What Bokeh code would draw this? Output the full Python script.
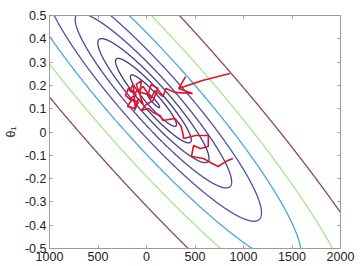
import numpy as np
from bokeh.plotting import figure
from bokeh.models import FixedTicker, LinearAxis
from bokeh.embed import file_html
from bokeh.resources import INLINE

# ---- data ----
size_mean = 2000.68          # mean house size used for the cost surface
size_std = 794.70            # std of house size
theta_min = [71.27, 0.1345]  # location of the cost minimum (theta0, theta1)
cost_min = 4000              # cost value at the minimum

levels = [10, 18.3, 33.6, 61.6, 112.9, 206.9, 379.3, 695.2, 1274, 2336,
          4281, 7848, 14384, 26367, 48329, 88587, 162378, 297635, 545559, 1000000]
contour_colors = ["#383880"] * 13 + ["#3f3f8e", "#48489e", "#5050ae",
                                     "#4aa6dc", "#a6e68c", "#8a4a4a"]

path_theta0 = [861, 576, 332, 403, 332, 475, 292, 200, 170, 88, 47, -34, -115,
               -186, -217, -156, -197, -115, -136, -176, -105, -166, -85, -125,
               -85, -34, -105, -54, -64, 17, 47,
               119, 68, -3, -54, 17, 68, 139, 170, 292, 353, 373, 383, 505, 637,
               637, 556, 485, 464, 587, 678, 739, 820, 891]
path_theta1 = [0.251, 0.221, 0.187, 0.238, 0.187, 0.165, 0.170, 0.187, 0.152,
               0.178, 0.144, 0.195, 0.170, 0.187, 0.157, 0.135, 0.110, 0.101,
               0.204, 0.178, 0.161, 0.144, 0.127, 0.092,
               0.144, 0.118, 0.204, 0.221, 0.170, 0.161, 0.204, 0.187, 0.135,
               0.118, 0.092, 0.101, 0.084, 0.071, 0.049, 0.058, 0.028, -0.002,
               -0.028, -0.015, -0.015, -0.062, -0.071, -0.058, -0.105, -0.114,
               -0.135, -0.148, -0.126, -0.114]

xticks = [-1000, -500, 0, 500, 1000, 1500, 2000]
xtick_labels = ["1000", "500", "0", "500", "1000", "1500", "2000"]
yticks = [-0.5, -0.4, -0.3, -0.2, -0.1, 0, 0.1, 0.2, 0.3, 0.4, 0.5]
ytick_labels = ["-0.5", "-0.4", "-0.3", "-0.2", "-0.1", "0", "0.1", "0.2", "0.3", "0.4", "0.5"]

# ---- contour curves of the quadratic cost ----
H = 0.5 * np.array([[1.0, size_mean], [size_mean, size_mean ** 2 + size_std ** 2]])
w, V = np.linalg.eigh(H)
t = np.linspace(0, 2 * np.pi, 2000)
cx, cy, cc = [], [], []
for L, col in zip(levels, contour_colors):
    dJ = L - cost_min
    if dJ <= 0:
        continue
    r = np.sqrt(dJ / w)
    pts = V @ np.vstack([r[0] * np.cos(t), r[1] * np.sin(t)])
    cx.append(pts[0] + theta_min[0])
    cy.append(pts[1] + theta_min[1])
    cc.append(col)

FONT = "Liberation Sans"
GRAY = "#9a9a9a"

p = figure(width=362, height=266, x_range=(-1000, 2000), y_range=(-0.5, 0.5),
           output_backend="svg", toolbar_location=None,
           min_border_left=45, min_border_right=22, min_border_top=15, min_border_bottom=18)
p.xgrid.visible = False
p.ygrid.visible = False
p.outline_line_color = GRAY
p.background_fill_color = "white"
p.border_fill_color = "white"

p.multi_line(cx, cy, line_color=cc, line_width=1.3)
p.line(path_theta0, path_theta1, line_color="#e3122c", line_width=1.6)

def style(ax, labels=True):
    ax.major_tick_in = 3
    ax.major_tick_out = 0
    ax.minor_tick_in = 0
    ax.minor_tick_out = 0
    ax.axis_line_color = GRAY
    ax.major_tick_line_color = GRAY
    ax.major_label_text_font = FONT
    if labels:
        ax.major_label_text_color = "#222222"
        ax.major_label_text_font_size = "12.5px"
        ax.major_label_standoff = 3
    else:
        ax.major_label_text_color = None
        ax.major_label_text_font_size = "1px"
        ax.major_label_standoff = 0

xa = p.xaxis[0]
xa.ticker = FixedTicker(ticks=xticks)
xa.major_label_overrides = {k: v for k, v in zip(xticks, xtick_labels)}
style(xa)

ya = p.yaxis[0]
ya.ticker = FixedTicker(ticks=yticks)
ya.major_label_overrides = {k: v for k, v in zip(yticks, ytick_labels)}
style(ya)
ya.axis_label = "θ₁"
ya.axis_label_text_font = FONT
ya.axis_label_text_font_style = "normal"
ya.axis_label_text_font_size = "12.5px"
ya.axis_label_standoff = 4
ya.axis_label_text_color = "#222222"

top = LinearAxis(ticker=FixedTicker(ticks=xticks))
style(top, labels=False)
p.add_layout(top, "above")
right = LinearAxis(ticker=FixedTicker(ticks=yticks))
style(right, labels=False)
p.add_layout(right, "right")

open("out.html", "w").write(file_html(p, INLINE))
